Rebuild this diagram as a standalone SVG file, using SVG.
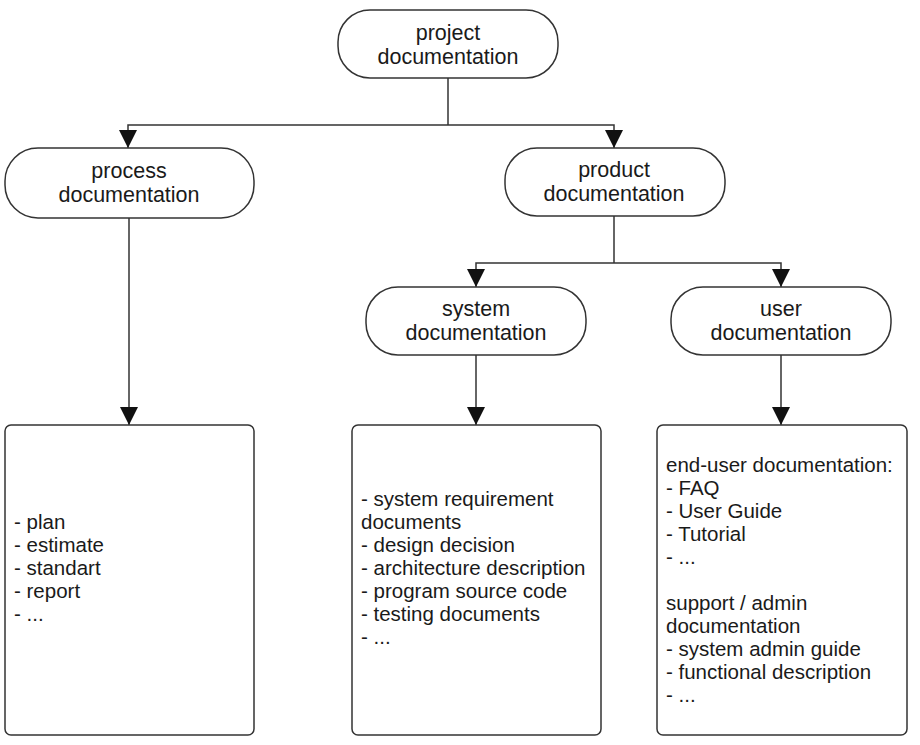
<svg xmlns="http://www.w3.org/2000/svg" width="920" height="745" viewBox="0 0 920 745">
<defs>
<style>
.node rect{fill:#fff;stroke:#333;stroke-width:1.5}
.t{font-family:"Liberation Sans",Arial,sans-serif;font-size:21.5px;fill:#1a1a1a;text-anchor:middle}
.b{font-family:"Liberation Sans",Arial,sans-serif;font-size:20.5px;fill:#1a1a1a}
.c{fill:none;stroke:#333;stroke-width:1.5}
</style>
<marker id="ah" markerUnits="userSpaceOnUse" markerWidth="18" markerHeight="18" refX="18" refY="9" orient="auto">
<path d="M0,0 L18,9 L0,18 Z" fill="#111"/>
</marker>
</defs>
<rect width="920" height="745" fill="#fff"/>
<g id="connectors">
<path class="c" d="M448,78 V125"/>
<path class="c" d="M448,125 H128 V148" marker-end="url(#ah)"/>
<path class="c" d="M448,125 H614 V148" marker-end="url(#ah)"/>
<path class="c" d="M129,218 V425" marker-end="url(#ah)"/>
<path class="c" d="M614,216 V263"/>
<path class="c" d="M614,263 H476 V287" marker-end="url(#ah)"/>
<path class="c" d="M614,263 H781 V287" marker-end="url(#ah)"/>
<path class="c" d="M476,355 V425" marker-end="url(#ah)"/>
<path class="c" d="M781,355 V425" marker-end="url(#ah)"/>
</g>
<g id="project" class="node">
<rect x="338" y="10" width="220" height="68" rx="32"/>
<text class="t" x="448" y="40">project</text>
<text class="t" x="448" y="64">documentation</text>
</g>
<g id="process" class="node">
<rect x="5" y="148" width="249" height="70" rx="33"/>
<text class="t" x="129" y="178">process</text>
<text class="t" x="129" y="202">documentation</text>
</g>
<g id="product" class="node">
<rect x="505" y="148" width="220" height="68" rx="32"/>
<text class="t" x="614" y="177">product</text>
<text class="t" x="614" y="201">documentation</text>
</g>
<g id="system" class="node">
<rect x="366" y="287" width="220" height="68" rx="32"/>
<text class="t" x="476" y="316">system</text>
<text class="t" x="476" y="340">documentation</text>
</g>
<g id="user" class="node">
<rect x="671" y="287" width="220" height="68" rx="32"/>
<text class="t" x="781" y="316">user</text>
<text class="t" x="781" y="340">documentation</text>
</g>
<g id="process-box" class="node">
<rect x="5" y="425" width="249" height="310" rx="6"/>
<text class="b" x="14" y="529">- plan</text>
<text class="b" x="14" y="552">- estimate</text>
<text class="b" x="14" y="575">- standart</text>
<text class="b" x="14" y="598">- report</text>
<text class="b" x="14" y="621">- ...</text>
</g>
<g id="system-box" class="node">
<rect x="352" y="425" width="249" height="310" rx="6"/>
<text class="b" x="361" y="506">- system requirement</text>
<text class="b" x="361" y="529">documents</text>
<text class="b" x="361" y="552">- design decision</text>
<text class="b" x="361" y="575">- architecture description</text>
<text class="b" x="361" y="598">- program source code</text>
<text class="b" x="361" y="621">- testing documents</text>
<text class="b" x="361" y="644">- ...</text>
</g>
<g id="user-box" class="node">
<rect x="657" y="425" width="250" height="310" rx="6"/>
<text class="b" x="666" y="472">end-user documentation:</text>
<text class="b" x="666" y="495">- FAQ</text>
<text class="b" x="666" y="518">- User Guide</text>
<text class="b" x="666" y="541">- Tutorial</text>
<text class="b" x="666" y="564">- ...</text>
<text class="b" x="666" y="610">support / admin</text>
<text class="b" x="666" y="633">documentation</text>
<text class="b" x="666" y="656">- system admin guide</text>
<text class="b" x="666" y="679">- functional description</text>
<text class="b" x="666" y="702">- ...</text>
</g>
</svg>
